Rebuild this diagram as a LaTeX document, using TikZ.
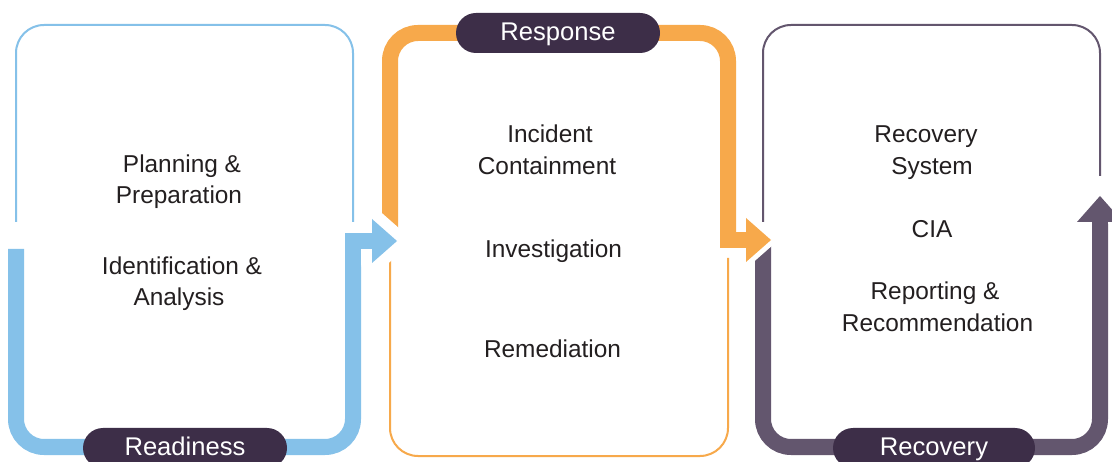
\documentclass[tikz,border=0pt]{standalone}
\usepackage{fontspec}
\setmainfont{Liberation Sans}
\definecolor{bluec}{HTML}{85C1E9}
\definecolor{orangec}{HTML}{F7A94B}
\definecolor{purplec}{HTML}{63566E}
\definecolor{pillc}{HTML}{3D2E48}
\definecolor{txtc}{HTML}{231F20}
\begin{document}
\begin{tikzpicture}[x=1pt,y=-1pt,
  thinline/.style={line width=2pt, rounded corners=28pt},
  band/.style={line width=16pt, rounded corners=28pt},
  body/.style={font=\fontsize{24.4}{30}\selectfont, text=txtc, anchor=base, inner sep=0pt},
  pilltxt/.style={font=\fontsize{25.6}{30}\selectfont, text=white, anchor=base, inner sep=0pt},
  pill/.style={fill=pillc, rounded corners=20pt, minimum width=204pt, minimum height=40pt, inner sep=0pt}]
\useasboundingbox (0,0) rectangle (1112,462);
\clip (0,0) rectangle (1112,462);
\fill[white] (0,0) rectangle (1112,462);

% Readiness (blue)
\draw[thinline, bluec] (16,222) -- (16,25) -- (353,25) -- (353,222);
\draw[band, bluec] (16,249) -- (16,447) -- (353,447) -- (353,241);
% Response (orange)
\draw[thinline, orangec] (390,258) -- (390,456) -- (728,456) -- (728,258);
\draw[band, orangec] (390,238) -- (390,33) -- (728,33) -- (728,240);
% Recovery (purple)
\draw[thinline, purplec] (763,222) -- (763,25) -- (1100,25) -- (1100,176);
\draw[band, purplec] (763,245) -- (763,447) -- (1100,447) -- (1100,224);

% blue arrow
\coordinate (ba1) at (372,219);
\coordinate (bt) at (397,241);
\coordinate (ba2) at (372,263);
\draw[white, fill=white, line width=22pt, line join=round] (ba1) -- (bt) -- (ba2) -- cycle;
\fill[bluec] (ba1) -- (bt) -- (ba2) -- cycle;
\draw[bluec, line width=16pt] (345,241) -- (373,241);

% orange arrow
\coordinate (oa1) at (746,218);
\coordinate (ot) at (771,240);
\coordinate (oa2) at (746,262);
\draw[white, fill=white, line width=10pt, line join=round] (oa1) -- (ot) -- (oa2) -- cycle;
\fill[orangec] (oa1) -- (ot) -- (oa2) -- cycle;
\draw[orangec, line width=16pt] (720,240) -- (747,240);

% purple arrow
\coordinate (pa1) at (1077,222);
\coordinate (pt) at (1100,196);
\coordinate (pa2) at (1123,222);
\fill[purplec] (pa1) -- (pt) -- (pa2) -- cycle;
\draw[purplec, line width=16pt] (1100,250) -- (1100,221);

% pills
\node[pill] (rdy) at (185,448) {};
\node[pilltxt] (rdyt) at (185,456) {Readiness};
\node[pill] (rsp) at (558,33) {};
\node[pilltxt] (rspt) at (558,41) {Response};
\node[pill, minimum width=202pt] (rcv) at (934,448) {};
\node[pilltxt] (rcvt) at (934,456) {Recovery};

% texts
\node[body] (l1) at (182,173) {Planning \&};
\node[body] (l2) at (179,203.5) {Preparation};
\node[body] (l3) at (182,275) {Identification \&};
\node[body] (l4) at (179,306) {Analysis};

\node[body] (m1) at (550,143) {Incident};
\node[body] (m2) at (547,175) {Containment};
\node[body] (m3) at (553.5,258) {Investigation};
\node[body] (m4) at (552.5,358) {Remediation};

\node[body] (r1) at (926,143) {Recovery};
\node[body] (r2) at (932,175) {System};
\node[body] (r3) at (932,238) {CIA};
\node[body] (r4) at (935,300) {Reporting \&};
\node[body] (r5) at (937.5,332) {Recommendation};
\end{tikzpicture}
\end{document}
